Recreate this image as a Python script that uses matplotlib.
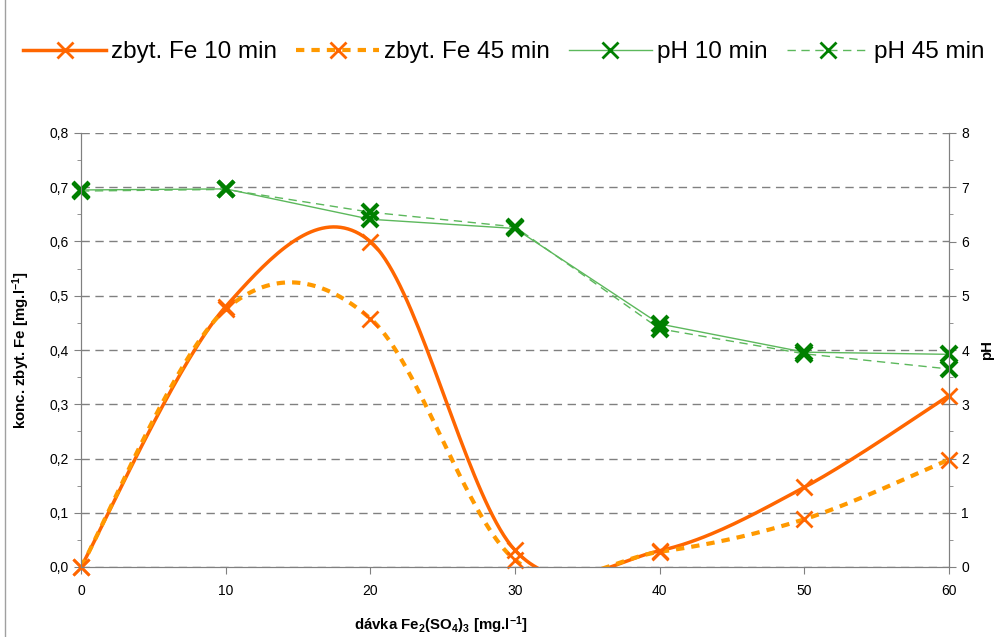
import matplotlib
matplotlib.use("Agg")
import matplotlib.pyplot as plt
import numpy as np
from matplotlib.lines import Line2D
from matplotlib.ticker import MultipleLocator, FuncFormatter

plt.rcParams['font.family'] = ['Liberation Sans', 'DejaVu Sans']
plt.rcParams['mathtext.fontset'] = 'custom'
plt.rcParams['mathtext.rm'] = 'Liberation Sans'
plt.rcParams['mathtext.bf'] = 'Liberation Sans:bold'
plt.rcParams['mathtext.default'] = 'bf'

# data
davka = [0, 10, 20, 30, 40, 50, 60]
fe_10 = [0.0, 0.48, 0.60, 0.031, 0.030, 0.147, 0.316]
fe_45 = [0.0, 0.475, 0.458, 0.013, 0.028, 0.088, 0.198]
ph_10 = [6.95, 6.97, 6.41, 6.24, 4.48, 3.96, 3.92]
ph_45 = [6.93, 6.96, 6.54, 6.27, 4.39, 3.93, 3.65]
labels = ["zbyt. Fe 10 min", "zbyt. Fe 45 min", "pH 10 min", "pH 45 min"]

ORANGE = "#FF6600"
ORANGE2 = "#FF9900"
GREEN = "#008000"
GREEN_L = "#5CB85C"
GRAY = "#808080"


def smooth(x, y, n=40):
    # excel-like smoothed line (catmull-rom bezier)
    p = np.column_stack([x, y]).astype(float)
    p = np.vstack([p[0], p, p[-1]])
    out = []
    t = np.linspace(0, 1, n)[:, None]
    for i in range(1, len(p) - 2):
        p0, p1, p2, p3 = p[i - 1], p[i], p[i + 1], p[i + 2]
        c1 = p1 + (p2 - p0) / 6
        c2 = p2 - (p3 - p1) / 6
        seg = ((1 - t) ** 3) * p1 + 3 * ((1 - t) ** 2) * t * c1 + 3 * (1 - t) * t ** 2 * c2 + t ** 3 * p2
        out.append(seg)
    out = np.vstack(out)
    return out[:, 0], out[:, 1]


fig = plt.figure(figsize=(10.03, 6.37), dpi=100)
ax = fig.add_axes([81 / 1003, 1 - 567 / 637, 868 / 1003, 434 / 637])
ax2 = ax.twinx()

sx, sy = smooth(davka, fe_10)
ax.plot(sx, sy, color=ORANGE, lw=2.5)
sx, sy = smooth(davka, fe_45)
ax.plot(sx, sy, color=ORANGE2, lw=3, linestyle=(0, (2, 1.7)))
ax.plot(davka, fe_45, ls='none', marker='x', ms=12, mew=2, color=ORANGE, clip_on=False, zorder=5)
ax.plot(davka, fe_10, ls='none', marker='x', ms=12, mew=2, color=ORANGE, clip_on=False, zorder=5)

ax2.plot(davka, ph_10, color=GREEN_L, lw=1)
ax2.plot(davka, ph_45, color=GREEN_L, lw=1, linestyle=(0, (6, 4)))
ax2.plot(davka, ph_10, ls='none', marker='x', ms=12, mew=3, color=GREEN, clip_on=False)
ax2.plot(davka, ph_45, ls='none', marker='x', ms=12, mew=3, color=GREEN, clip_on=False)

ax.set_xlim(0, 60)
ax.set_ylim(0, 0.8)
ax2.set_ylim(0, 8)
ax.set_xticks(davka)
ax.yaxis.set_major_locator(MultipleLocator(0.1))
ax.yaxis.set_minor_locator(MultipleLocator(0.05))
ax2.yaxis.set_major_locator(MultipleLocator(1))
ax2.yaxis.set_minor_locator(MultipleLocator(0.5))
ax.yaxis.set_major_formatter(FuncFormatter(lambda v, p: f"{v:.1f}".replace('.', ',')))

for a in (ax, ax2):
    for s in a.spines.values():
        s.set_color(GRAY)
    a.spines['top'].set_visible(False)
    a.tick_params(which='both', direction='out', color=GRAY, labelsize=10, pad=4)
    a.tick_params(which='major', length=5)
    a.tick_params(which='minor', length=3)
ax.tick_params(axis='x', pad=7)

ax.grid(axis='y', color=GRAY, linestyle=(0, (6, 4)), lw=1)
ax.set_axisbelow(True)

ax.set_xlabel(r"dávka Fe$_2$(SO$_4$)$_3$ [mg.l$^{-1}$]", fontsize=10.8, fontweight='bold')
ax.xaxis.set_label_coords((441 - 81) / 868, -47 / 434)
ax.set_ylabel(r"konc. zbyt. Fe [mg.l$^{-1}$]", fontsize=10.8, fontweight='bold', labelpad=12)
ax2.set_ylabel("pH", fontsize=10.8, fontweight='bold', labelpad=8)

handles = [
    Line2D([], [], color=ORANGE, lw=2.5, marker='x', ms=12, mew=2, mec=ORANGE),
    Line2D([], [], color=ORANGE2, lw=3, linestyle=(0, (2, 1.7)), marker='x', ms=12, mew=2, mec=ORANGE),
    Line2D([], [], color=GREEN_L, lw=1, marker='x', ms=12, mew=2, mec=GREEN),
    Line2D([], [], color=GREEN_L, lw=1, linestyle=(0, (6, 4)), marker='x', ms=12, mew=2, mec=GREEN),
]
fig.legend(handles, labels, loc='center', bbox_to_anchor=(504 / 1003, 1 - 52 / 637), ncol=4,
           frameon=False, fontsize=17.5, handlelength=3.4, handletextpad=0.2, columnspacing=0.8,
           borderpad=0, borderaxespad=0)

fig.add_artist(Line2D([5 / 1003, 5 / 1003], [0, 1], color="#A0A0A0", lw=1, transform=fig.transFigure))

fig.savefig("out.png", dpi=100)
